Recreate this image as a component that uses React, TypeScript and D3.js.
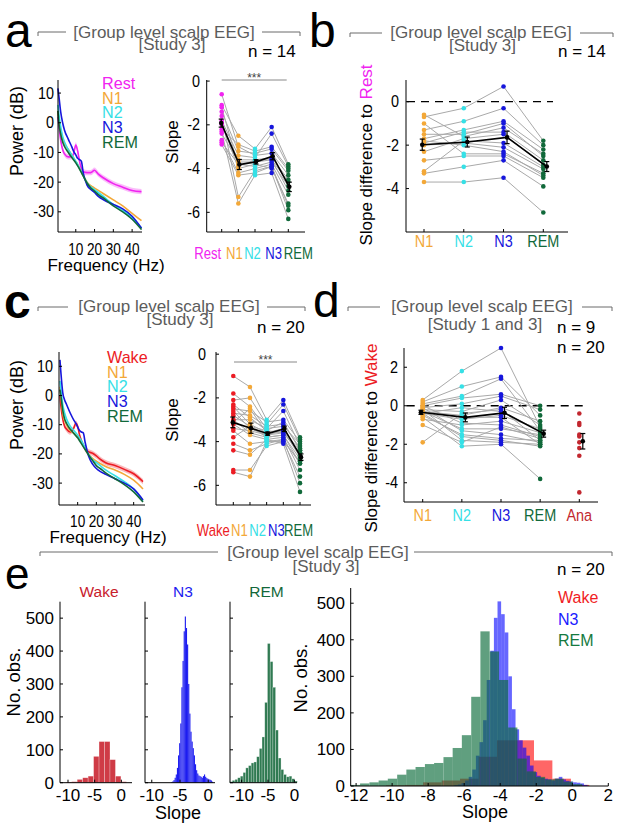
import React from 'react';
import * as d3 from 'd3';

const FONT = "'Liberation Sans', Arial, Helvetica, sans-serif";
const GRAY = '#5c5c5c';
const COL: any = {
  Rest: '#f024f0', Wake: '#ec1c24', N1: '#f3a838', N2: '#36e0e6',
  N3: '#1616dc', REM: '#11693a', Ana: '#c2272f',
};

// ---- power spectra (dB), panels a and c ----
const freqs = [0.5, 1, 2, 3, 4, 6, 8, 9, 10, 11, 12, 13, 14, 16, 18, 20, 22, 25, 30, 35, 40, 45];
const psdRestA = [2, -1, -6, -9, -10.5, -11.5, -11.5, -10, -7.5, -9.5, -13, -15.5, -16.5, -16.8, -16.8, -16, -17.3, -18.7, -20.5, -21.7, -22.8, -23.2];
const psdN1A = [4, 1, -3, -5.5, -7, -9, -11, -12, -13, -14, -15.3, -16.5, -17.8, -20, -21.2, -22, -22.8, -24, -26, -28, -30.5, -33];
const psdN2A = [6, 3, -1.5, -4.5, -6.5, -9, -11, -12, -13, -14, -15.3, -16.5, -17.8, -20.2, -21.6, -22.6, -23.5, -25, -27.5, -29.5, -32, -35.5];
const psdN3A = [11.6, 9, 3.5, 0, -2.5, -5.5, -8.3, -9.8, -10.8, -12, -12.4, -13, -17, -21, -22.5, -23.5, -24.8, -26, -27.5, -29, -31.5, -35.5];
const psdREMA = [4, 0, -4, -6.5, -8, -10, -11.8, -12.6, -13.5, -14.5, -15.6, -16.8, -18, -20.3, -22, -23, -24.2, -25.5, -28, -30, -32.5, -36];

const psdWakeC = [0, -3.5, -8, -10.5, -11.5, -12.5, -11, -9.5, -10.5, -13.5, -15.5, -17, -18.3, -19.3, -19.8, -20.7, -21.8, -23, -24, -25.3, -26.8, -29.5];
const psdN1C = [3, 0, -6, -8.5, -10, -12, -13, -13.5, -14, -15, -16, -17, -18.3, -20.3, -21.5, -22.5, -23.3, -24.3, -25.5, -27, -29, -32];
const psdN2C = [5, 2, -3, -6, -8, -10.5, -12, -12.8, -13.5, -14.5, -15.5, -16.7, -18, -20.3, -22, -23, -24, -25.5, -27.5, -29.5, -32, -36];
const psdN3C = [12.2, 8, 1, -1.5, -3, -6, -8.5, -9.5, -10.8, -12, -12.5, -12.8, -16, -21, -23.5, -25, -26, -27, -28.5, -30, -32, -35.8];
const psdREMC = [2, 0, -5, -8, -9.5, -11.5, -13, -13.8, -14.5, -15.5, -16.5, -17.5, -18.5, -20.5, -22.3, -24, -25, -26.5, -28.5, -30.5, -33, -36.5];
const psdSem = 0.9;

// ---- slopes per subject, panel a (n = 14) ----
const slopeRestA = [-0.6, -1.1, -1.2, -1.4, -1.6, -1.8, -1.9, -2.0, -2.2, -2.3, -2.4, -2.7, -2.8, -2.9];
const slopeN1A = [-3.0, -2.5, -3.9, -3.2, -5.3, -3.4, -4.0, -3.6, -2.9, -5.6, -3.7, -4.2, -3.8, -4.3];
const slopeN2A = [-3.4, -3.1, -3.6, -3.3, -4.1, -3.5, -3.8, -3.6, -3.2, -4.3, -3.7, -4.0, -3.9, -4.2];
const slopeN3A = [-3.3, -2.1, -3.6, -3.1, -3.9, -2.4, -4.0, -3.5, -3.0, -4.2, -3.6, -3.8, -3.7, -3.9];
const slopeREMA = [-4.3, -3.8, -5.0, -4.1, -5.9, -3.9, -5.6, -4.5, -4.0, -6.3, -4.6, -5.2, -4.8, -5.7];

// ---- slope difference to Rest, panel b ----
const diffN1B = [-0.6, -0.7, -1.0, -1.3, -1.5, -1.7, -1.8, -1.9, -2.0, -2.3, -2.7, -3.2, -3.3, -3.7];
const diffN2B = [-1.6, -0.3, -2.4, -0.9, -1.5, -1.3, -2.0, -1.4, -1.9, -1.7, -2.5, -1.8, -3.0, -3.7];
const diffN3B = [-1.2, 0.7, -2.4, -0.3, -1.0, -0.9, -2.3, -1.4, -2.1, -1.5, -2.5, -1.9, -2.7, -3.5];
const diffREMB = [-2.4, -1.8, -3.3, -2.0, -2.5, -2.2, -3.4, -2.7, -3.1, -2.9, -3.5, -3.0, -3.9, -5.1];

// ---- slopes per subject, panel c (n = 20) ----
const slopeWakeC = [-1.0, -1.8, -2.1, -2.3, -2.4, -2.5, -2.6, -2.7, -2.8, -3.0, -3.0, -3.1, -3.2, -3.4, -3.5, -3.8, -4.1, -4.4, -5.3, -5.4];
const slopeN1C = [-1.5, -2.4, -2.0, -2.9, -3.2, -2.6, -3.4, -2.8, -3.3, -3.6, -3.0, -2.5, -3.7, -3.5, -4.1, -3.3, -4.4, -4.6, -5.3, -5.6];
const slopeN2C = [-3.0, -3.4, -3.2, -3.5, -3.6, -3.1, -3.7, -3.3, -3.5, -3.8, -3.4, -3.6, -3.9, -3.7, -4.0, -3.8, -4.1, -3.9, -4.2, -4.0];
const slopeN3C = [-2.1, -2.6, -2.3, -3.1, -3.4, -3.0, -3.5, -3.2, -3.6, -3.7, -3.3, -3.5, -3.8, -3.6, -4.0, -3.7, -3.9, -4.1, -4.0, -3.9];
const slopeREMC = [-3.8, -4.2, -3.9, -4.4, -4.6, -4.0, -4.7, -4.3, -4.5, -5.0, -4.1, -4.4, -5.3, -4.5, -5.6, -4.8, -5.9, -6.3, -4.9, -5.0];

// ---- slope difference to Wake, panel d ----
const diffN1D = [0.3, 0.2, 0.1, 0.0, 0.0, -0.1, -0.1, -0.2, -0.2, -0.3, -0.3, -0.4, -0.5, -0.6, -0.7, -0.4, -0.4, -1.0, -0.3, -1.9];
const diffN2D = [1.8, 1.0, 0.5, -0.9, 0.4, 0.1, -1.3, -0.3, -1.8, -0.5, -1.2, -0.7, -1.5, -2.1, -1.0, -1.6, -0.1, -1.9, -0.6, -0.4];
const diffN3D = [3.0, 1.5, 1.4, -1.0, 0.6, 0.5, -1.5, 0.3, -1.9, -0.1, -1.2, -0.5, -1.7, -2.0, -0.8, -1.8, -0.3, -1.1, -0.6, -0.2];
const diffREMD = [-1.1, -0.5, -1.3, -1.6, 0.0, -0.2, -1.9, -1.0, -2.0, -0.8, -1.5, -1.2, -1.8, -3.8, -1.4, -2.1, -1.3, -1.7, -2.0, -1.8];
const diffAnaD = [-0.4, -0.9, -1.0, -1.5, -1.6, -2.2, -2.6, -4.5, -1.9];

// ---- histograms, panel e (bin lower edges + counts) ----
const wakeEdges = [-11.35, -10.33, -9.3, -8.28, -7.25, -6.23, -5.2, -4.18, -3.15, -2.13, -1.1, -0.08];
const wakeWidth = 1.025;
const wakeCounts = [0, 2, 3, 10, 15, 20, 80, 125, 125, 70, 20, 3];
const n3Edges = [-6.55, -6.35, -6.15, -5.95, -5.75, -5.55, -5.35, -5.15, -4.95, -4.75, -4.55, -4.35, -4.15,
  -3.95, -3.75, -3.55, -3.35, -3.15, -2.95, -2.75, -2.55, -2.35, -2.15, -1.95, -1.75, -1.55, -1.35,
  -1.15, -0.95, -0.75, -0.55, -0.35, -0.15, 0.05, 0.25, 0.45, 0.65];
const n3Width = 0.2;
const n3Counts = [2, 4, 8, 15, 25, 45, 83, 120, 180, 290, 370, 460, 505, 470, 420, 300, 210, 155, 125, 105,
  83, 56, 38, 28, 22, 20, 18, 15, 20, 25, 18, 14, 12, 10, 9, 7, 3];
const remEdges = [-12.29, -11.78, -11.26, -10.75, -10.24, -9.72, -9.21, -8.7, -8.18, -7.67, -7.15, -6.64,
  -6.13, -5.61, -5.1, -4.58, -4.07, -3.56, -3.04, -2.53, -2.02, -1.5, -0.99, -0.48, 0.04];
const remWidth = 0.514;
const remCounts = [3, 7, 10, 15, 20, 31, 45, 52, 60, 63, 79, 104, 139, 244, 423, 368, 290, 160, 75, 40, 25, 18, 20, 12, 5];

function Txt(props: any) {
  const { x, y, fs = 16, sx = 1, rot = 0, anchor = 'start', fill = '#000', weight, children } = props;
  return (
    <text transform={`translate(${x},${y}) rotate(${rot}) scale(${sx},1)`} fontSize={fs}
      textAnchor={anchor} fill={fill} fontWeight={weight}>{children}</text>
  );
}

function Header(props: any) {
  const { l1, l2, r1, r2, ly, tx, ty, sub, subx, suby, ns } = props;
  return (
    <g>
      <path d={`M${l1},${ly + 4}V${ly}H${l2}M${r1},${ly}H${r2}V${ly + 4}`} fill="none" stroke="#6a6a6a" />
      <Txt x={tx} y={ty} fs={17} anchor="middle" fill={GRAY}>[Group level scalp EEG]</Txt>
      <Txt x={subx} y={suby} fs={17} anchor="middle" fill={GRAY}>{sub}</Txt>
      {ns.map((n: any, i: number) => <Txt key={i} x={n[0]} y={n[1]} fs={17}>{n[2]}</Txt>)}
    </g>
  );
}

function PsdPanel(p: any) {
  const { left, right, top, bottom, xr, ydom, series, legX, legY, tickY, yTickX, xlabY, ylabX, ylabY } = p;
  const xs = d3.scaleLinear().domain([0, 45]).range(xr);
  const ys = d3.scaleLinear().domain(ydom).range([bottom, top]);
  const line = d3.line().x((_: any, i: number) => xs(freqs[i])).y((d: any) => ys(d)).curve(d3.curveMonotoneX);
  const area = d3.area().x((_: any, i: number) => xs(freqs[i]))
    .y0((d: any) => ys(d - psdSem)).y1((d: any) => ys(d + psdSem)).curve(d3.curveMonotoneX);
  const first = series[0];
  return (
    <g>
      <path d={area(first.v) as string} fill={COL[first.key]} opacity={0.3} />
      {series.map((s: any) => (
        <path key={s.key} d={line(s.v) as string} fill="none" stroke={COL[s.key]} strokeWidth={1.6} />
      ))}
      <path d={`M${left},${top}V${bottom}H${right}`} fill="none" stroke="#000" />
      {[10, 0, -10, -20, -30].map(t => (
        <g key={t}>
          <line x1={left} x2={left + 3} y1={ys(t)} y2={ys(t)} stroke="#000" />
          <Txt x={yTickX} y={ys(t) + 5.5} fs={16} sx={0.9} anchor="end">{t}</Txt>
        </g>
      ))}
      {[10, 20, 30, 40].map(t => (
        <g key={t}>
          <line x1={xs(t)} x2={xs(t)} y1={bottom} y2={bottom - 3} stroke="#000" />
          <Txt x={xs(t)} y={tickY} fs={16} sx={0.85} anchor="middle">{t}</Txt>
        </g>
      ))}
      <Txt x={(left + right) / 2 + 6} y={xlabY} fs={17} anchor="middle">Frequency (Hz)</Txt>
      <Txt x={ylabX} y={ylabY} fs={18} rot={-90} anchor="middle">Power (dB)</Txt>
      {series.map((s: any, i: number) => (
        <Txt key={s.key} x={legX} y={legY + i * 14.7} fs={17} sx={0.95} fill={COL[s.key]}>{s.key}</Txt>
      ))}
    </g>
  );
}

function SlopePanel(p: any) {
  const { left, right, top, bottom, ydom, yticks, cats, data, cx, labelY, labelDx, yTickX, ylab, ylabX, ylabY,
    meanDx, zero, sig, catFs = 17, catSx = 0.85 } = p;
  const ys = d3.scaleLinear().domain(ydom).range([bottom, top]);
  const xs = d3.scalePoint().domain(cats).range(cx);
  const lineCats = cats.filter((c: string) => c !== 'Ana');
  const n = data[lineCats[0]].length;
  const subj = d3.range(n).map(i => lineCats.map((c: string) => [xs(c) as number, ys(data[c][i])]));
  const stats = cats.map((c: string, k: number) => {
    const v = data[c];
    return {
      c, m: d3.mean(v) as number, se: (d3.deviation(v) as number) / Math.sqrt(v.length),
      x: (xs(c) as number) + (k === 0 ? -meanDx / 2 : meanDx),
    };
  });
  const meanStats = stats.filter((s: any) => s.c !== 'Ana');
  const ln = d3.line();
  return (
    <g>
      {zero && <line x1={zero[0]} x2={zero[1]} y1={ys(0)} y2={ys(0)} stroke="#000" strokeWidth={1.3} strokeDasharray="8,6" />}
      {sig && (
        <g>
          <line x1={sig[0]} x2={sig[1]} y1={sig[2]} y2={sig[2]} stroke="#888" />
          <Txt x={(sig[0] + sig[1]) / 2} y={sig[2] + 2} fs={12} anchor="middle" fill="#444">***</Txt>
        </g>
      )}
      {subj.map((pts: any, i: number) => (
        <path key={i} d={ln(pts) as string} fill="none" stroke="#a9a9a9" strokeWidth={1} />
      ))}
      {cats.map((c: string) => data[c].map((v: number, i: number) => (
        <circle key={c + i} cx={xs(c)} cy={ys(v)} r={2.3} fill={COL[c]} />
      )))}
      <path d={ln(meanStats.map((s: any) => [s.x, ys(s.m)])) as string} fill="none" stroke="#000" strokeWidth={1.6} />
      {stats.map((s: any) => (
        <g key={s.c} stroke="#000" strokeWidth={1.2}>
          <line x1={s.x} x2={s.x} y1={ys(s.m - s.se)} y2={ys(s.m + s.se)} />
          <line x1={s.x - 2.5} x2={s.x + 2.5} y1={ys(s.m - s.se)} y2={ys(s.m - s.se)} />
          <line x1={s.x - 2.5} x2={s.x + 2.5} y1={ys(s.m + s.se)} y2={ys(s.m + s.se)} />
          <circle cx={s.x} cy={ys(s.m)} r={2.3} fill="#000" stroke="none" />
        </g>
      ))}
      <path d={`M${left},${top}V${bottom}H${right}`} fill="none" stroke="#000" />
      {yticks.map((t: number) => (
        <g key={t}>
          <line x1={left} x2={left + 3} y1={ys(t)} y2={ys(t)} stroke="#000" />
          <Txt x={yTickX} y={ys(t) + 5.5} fs={16} sx={0.9} anchor="end">{t}</Txt>
        </g>
      ))}
      {cats.map((c: string, k: number) => (
        <g key={c}>
          <line x1={xs(c)} x2={xs(c)} y1={bottom} y2={bottom - 3} stroke="#000" />
          <Txt x={(xs(c) as number) + (labelDx ? labelDx[k] : 0)} y={labelY} fs={catFs} sx={catSx}
            anchor="middle" fill={COL[c]}>{c}</Txt>
        </g>
      ))}
      <text transform={`translate(${ylabX},${ylabY}) rotate(-90)`} fontSize={17} textAnchor="middle">
        {ylab.map((seg: any, i: number) => <tspan key={i} fill={seg[1]}>{seg[0]}</tspan>)}
      </text>
    </g>
  );
}

const hy = d3.scaleLinear().domain([0, 550]).range([782.7, 601.7]);

function SmallHist(p: any) {
  const { left, right, dom, edges, width, counts, color, title, showY, stroke = true } = p;
  const xs = d3.scaleLinear().domain(dom).range([left, right]);
  return (
    <g>
      {edges.map((e: number, i: number) => (
        <rect key={i} x={xs(e)} width={xs(e + width) - xs(e)} y={hy(counts[i])} height={hy(0) - hy(counts[i])}
          fill={color} fillOpacity={stroke ? 0.88 : 1} stroke={stroke ? '#fff' : 'none'} strokeOpacity={0.45} strokeWidth={0.6} />
      ))}
      <path d={`M${left},${hy(550)}V${hy(0)}H${right}`} fill="none" stroke="#000" />
      {[0, 100, 200, 300, 400, 500].map(t => (
        <g key={t}>
          <line x1={left} x2={left + 3} y1={hy(t)} y2={hy(t)} stroke="#000" />
          {showY && <Txt x={left - 6} y={hy(t) + 6} fs={17} anchor="end">{t}</Txt>}
        </g>
      ))}
      {[-10, -5, 0].map(t => (
        <g key={t}>
          <line x1={xs(t)} x2={xs(t)} y1={hy(0)} y2={hy(0) - 3} stroke="#000" />
          <Txt x={xs(t)} y={801} fs={17} anchor="middle">{t}</Txt>
        </g>
      ))}
      <Txt x={(left + right) / 2 + 3} y={597} fs={15.5} anchor="middle" fill={color}>{title}</Txt>
    </g>
  );
}

function BigHist() {
  const xs = d3.scaleLinear().domain([-12.3, 2]).range([350.7, 608.3]);
  const ys = d3.scaleLinear().domain([0, 541.6]).range([786, 588]);
  const sets = [
    { edges: wakeEdges, w: wakeWidth, counts: wakeCounts, fill: '#ff0000', op: 0.6 },
    { edges: n3Edges, w: n3Width, counts: n3Counts, fill: '#0000ff', op: 0.6 },
    { edges: remEdges, w: remWidth, counts: remCounts, fill: '#0b6b3a', op: 0.65 },
  ];
  return (
    <g>
      {sets.map((s, k) => (
        <g key={k} fill={s.fill} fillOpacity={s.op}>
          {s.edges.map((e: number, i: number) => (
            <rect key={i} x={xs(e)} width={xs(e + s.w) - xs(e)} y={ys(s.counts[i])} height={ys(0) - ys(s.counts[i])} />
          ))}
        </g>
      ))}
      <path d={`M350.7,588V786H608.3`} fill="none" stroke="#000" />
      {[0, 100, 200, 300, 400, 500].map(t => (
        <g key={t}>
          <line x1={350.7} x2={353.7} y1={ys(t)} y2={ys(t)} stroke="#000" />
          <Txt x={345} y={ys(t) + 6} fs={17} anchor="end">{t}</Txt>
        </g>
      ))}
      {[-12, -10, -8, -6, -4, -2, 0, 2].map(t => (
        <g key={t}>
          <line x1={xs(t)} x2={xs(t)} y1={786} y2={783} stroke="#000" />
          <Txt x={xs(t)} y={801} fs={17} anchor="middle">{t}</Txt>
        </g>
      ))}
      <Txt x={485} y={818} fs={18} anchor="middle">Slope</Txt>
      <Txt x={307} y={678} fs={18.5} rot={-90} anchor="middle">No. obs.</Txt>
      <Txt x={558} y={603} fs={16} fill="#f01d24">Wake</Txt>
      <Txt x={558} y={625} fs={16} fill="#1a1aff">N3</Txt>
      <Txt x={558} y={646} fs={16} fill="#157a40">REM</Txt>
    </g>
  );
}

export default function App() {
  return (
    <svg width={617} height={837} style={{ position: 'absolute', left: 0, top: 0, background: '#fff' }}
      fontFamily={FONT}>
      <rect width={617} height={837} fill="#fff" />
      {/* panel letters */}
      <Txt x={5} y={47} fs={48}>a</Txt>
      <Txt x={309} y={47} fs={48}>b</Txt>
      <Txt x={4} y={318} fs={48} weight="bold">c</Txt>
      <Txt x={313} y={317} fs={48}>d</Txt>
      <Txt x={5} y={589} fs={44}>e</Txt>

      <Header l1={38} l2={66} r1={262} r2={300} ly={32} tx={164} ty={38} sub="[Study 3]" subx={172} suby={50}
        ns={[[248, 57, 'n = 14']]} />
      <Header l1={350} l2={382} r1={580} r2={613} ly={33} tx={481} ty={38} sub="[Study 3]" subx={482.5} suby={51}
        ns={[[558, 57, 'n = 14']]} />
      <Header l1={38} l2={68} r1={267} r2={305} ly={307} tx={169} ty={312} sub="[Study 3]" subx={180} suby={325}
        ns={[[257, 333, 'n = 20']]} />
      <Header l1={348} l2={380} r1={582} r2={612} ly={307} tx={482} ty={312} sub="[Study 1 and 3]" subx={485} suby={330}
        ns={[[557, 333, 'n = 9'], [557, 353, 'n = 20']]} />
      <Header l1={40} l2={218} r1={414} r2={612} ly={552} tx={318} ty={558} sub="[Study 3]" subx={326} suby={572}
        ns={[[557, 575, 'n = 20']]} />

      {/* a: spectra */}
      <PsdPanel left={58} right={142} top={80} bottom={232} xr={[57, 141.5]} ydom={[-36.8, 14.4]}
        series={[{ key: 'Rest', v: psdRestA }, { key: 'N1', v: psdN1A }, { key: 'N2', v: psdN2A },
          { key: 'N3', v: psdN3A }, { key: 'REM', v: psdREMA }]}
        legX={102} legY={89} tickY={255} yTickX={54} xlabY={271} ylabX={23} ylabY={131} />
      {/* a: slopes */}
      <SlopePanel left={206.7} right={305} top={80} bottom={232} ydom={[-6.9, 0.05]} yticks={[0, -2, -4, -6]}
        cats={['Rest', 'N1', 'N2', 'N3', 'REM']}
        data={{ Rest: slopeRestA, N1: slopeN1A, N2: slopeN2A, N3: slopeN3A, REM: slopeREMA }}
        cx={[221.7, 288.3]} labelY={259} labelDx={[-14, -4, -2.5, 2, 10]} catFs={17} catSx={0.77}
        yTickX={200} ylab={[['Slope', '#000']]} ylabX={178} ylabY={142}
        meanDx={1} sig={[221.7, 286.7, 80]} />

      {/* b */}
      <SlopePanel left={406} right={568} top={80} bottom={232} ydom={[-6, 1]} yticks={[0, -2, -4]}
        cats={['N1', 'N2', 'N3', 'REM']}
        data={{ N1: diffN1B, N2: diffN2B, N3: diffN3B, REM: diffREMB }}
        cx={[424, 543.3]} labelY={247} yTickX={399} ylab={[['Slope difference to ', '#000'], ['Rest', COL.Rest]]}
        ylabX={372} ylabY={155} meanDx={3.5} zero={[407, 553]} />

      {/* c: spectra */}
      <PsdPanel left={59} right={145} top={352} bottom={505} xr={[59, 143]} ydom={[-37.5, 14.9]}
        series={[{ key: 'Wake', v: psdWakeC }, { key: 'N1', v: psdN1C }, { key: 'N2', v: psdN2C },
          { key: 'N3', v: psdN3C }, { key: 'REM', v: psdREMC }]}
        legX={107} legY={363} tickY={527} yTickX={53} xlabY={543} ylabX={23} ylabY={405} />
      {/* c: slopes */}
      <SlopePanel left={216} right={311} top={352} bottom={505} ydom={[-6.9, 0.1]} yticks={[0, -2, -4, -6]}
        cats={['Wake', 'N1', 'N2', 'N3', 'REM']}
        data={{ Wake: slopeWakeC, N1: slopeN1C, N2: slopeN2C, N3: slopeN3C, REM: slopeREMC }}
        cx={[233.3, 300]} labelY={536} labelDx={[-20, -10.5, -9, -7, -1.5]} catFs={17} catSx={0.77}
        yTickX={206} ylab={[['Slope', '#000']]} ylabX={178} ylabY={420}
        meanDx={1} sig={[234, 297, 362]} />

      {/* d */}
      <SlopePanel left={404} right={598} top={348} bottom={502} ydom={[-5, 3]} yticks={[2, 0, -2, -4]}
        cats={['N1', 'N2', 'N3', 'REM', 'Ana']}
        data={{ N1: diffN1D, N2: diffN2D, N3: diffN3D, REM: diffREMD, Ana: diffAnaD }}
        cx={[422.7, 579.3]} labelY={521} yTickX={398} ylab={[['Slope difference to ', '#000'], ['Wake', COL.Wake]]}
        ylabX={377} ylabY={438} meanDx={3.5} zero={[406.7, 587.3]} />

      {/* e: per-stage histograms */}
      <SmallHist left={60} right={132} dom={[-11.5, 2]} edges={wakeEdges} width={wakeWidth} counts={wakeCounts}
        color="#c8202c" title="Wake" showY />
      <SmallHist left={145} right={215} dom={[-11.2, 1.2]} edges={n3Edges} width={n3Width} counts={n3Counts}
        color="#1c1cf0" title="N3" stroke={false} />
      <SmallHist left={230} right={297} dom={[-12.2, 0.5]} edges={remEdges} width={remWidth} counts={remCounts}
        color="#13683a" title="REM" />
      <Txt x={20} y={682} fs={18.5} rot={-90} anchor="middle">No. obs.</Txt>
      <Txt x={178} y={819} fs={18} anchor="middle">Slope</Txt>

      <BigHist />
    </svg>
  );
}
